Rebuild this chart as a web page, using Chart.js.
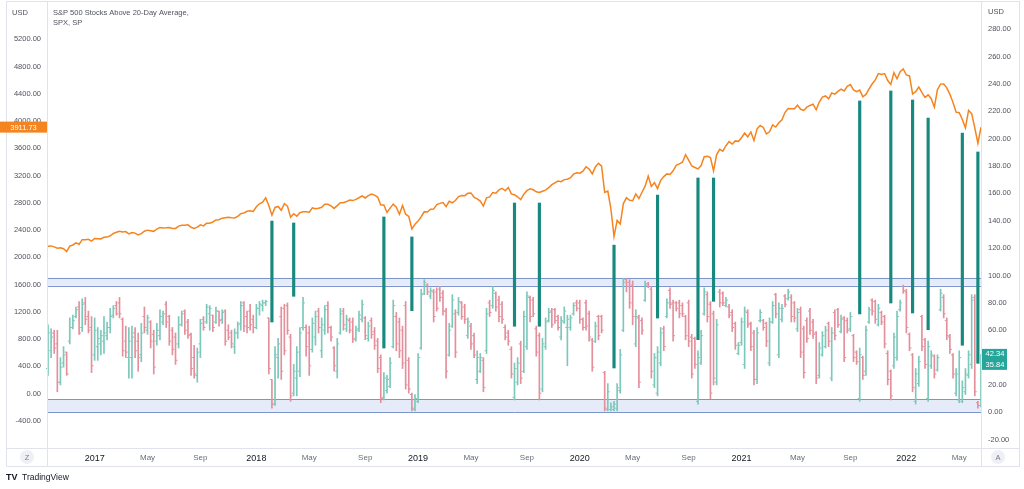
<!DOCTYPE html>
<html>
<head>
<meta charset="utf-8">
<script src="https://cdn.jsdelivr.net/npm/chart.js@4.4.1/dist/chart.umd.min.js"></script>
<style>
html, body { margin: 0; padding: 0; background: #fff; }
#wrap { position: relative; width: 1024px; height: 489px; }
</style>
</head>
<body>
<div id="wrap"><canvas id="chart" width="1024" height="489"></canvas></div>
<script>
// weekly bars, first week starts Monday 2016-09-19
var firstWeek = '2016-09-19';

// SPX weekly close (left axis)
var spxClose = [
  2164.69, 2168.27, 2153.74, 2132.98, 2141.16, 2126.41, 2085.18, 2164.45, 2181.90, 2213.35, 2191.95, 2259.53, 2258.07, 2263.79, 2238.83,
  2276.98, 2274.64, 2271.31, 2294.69, 2297.42, 2316.10, 2351.16, 2367.34, 2383.12, 2372.60, 2378.25, 2343.98, 2362.72, 2355.54, 2328.95, 2348.69,
  2384.20, 2399.29, 2390.90, 2381.73, 2415.82, 2439.07, 2431.77, 2433.15, 2438.30, 2423.41, 2425.18, 2459.27, 2472.54, 2472.10, 2476.83, 2441.32,
  2425.55, 2443.05, 2476.55, 2461.43, 2500.23, 2502.22, 2519.36, 2549.33, 2553.17, 2575.21, 2581.07, 2587.84, 2582.30, 2578.85, 2602.42, 2642.22,
  2651.50, 2675.81, 2683.34, 2673.61,
  2743.15, 2786.24, 2810.30, 2872.87, 2762.13, 2619.55, 2732.22, 2747.30, 2691.25, 2786.57, 2752.01, 2588.26, 2640.87, 2604.47, 2656.30, 2670.14,
  2669.91, 2663.42, 2727.72, 2712.97, 2721.33, 2734.62, 2779.03, 2779.66, 2754.88, 2718.37, 2759.82, 2801.31, 2801.83, 2818.82, 2840.35, 2833.28,
  2850.13, 2874.69, 2901.52, 2871.68, 2904.98, 2929.67, 2913.98, 2885.57, 2767.13, 2767.78, 2658.69, 2723.06, 2781.01, 2736.27, 2632.56, 2760.17,
  2633.08, 2599.95, 2416.62, 2485.74,
  2531.94, 2596.26, 2670.71, 2664.76, 2706.53, 2707.88, 2775.60, 2792.67, 2803.69, 2743.07, 2822.48, 2800.71, 2834.40, 2892.74, 2907.41, 2905.03,
  2939.88, 2945.64, 2881.40, 2859.53, 2826.06, 2752.06, 2873.34, 2886.98, 2950.46, 2941.76, 2990.41, 3013.77, 2976.61, 3025.86, 2932.05, 2918.65,
  2888.68, 2847.11, 2926.46, 2978.71, 3007.39, 2992.07, 2961.79, 2952.01, 2970.27, 2986.20, 3022.55, 3066.91, 3093.08, 3120.46, 3110.29, 3140.98,
  3145.91, 3168.80, 3221.22, 3240.02,
  3234.85, 3265.35, 3329.62, 3295.47, 3225.52, 3327.71, 3380.16, 3337.75, 2954.22, 2972.37, 2711.02, 2304.92, 2541.47, 2488.65, 2789.82, 2874.56,
  2836.74, 2830.71, 2929.80, 2863.70, 2955.45, 3044.31, 3193.93, 3041.31, 3097.74, 3009.05, 3130.01, 3185.04, 3224.73, 3215.63, 3271.12, 3351.28,
  3372.85, 3397.16, 3508.01, 3426.96, 3340.97, 3319.47, 3298.46, 3348.44, 3477.13, 3483.81, 3465.39, 3269.96, 3509.44, 3585.15, 3557.54, 3638.35,
  3699.12, 3663.46, 3709.41, 3703.06, 3756.07,
  3824.68, 3768.25, 3841.47, 3714.24, 3886.83, 3934.83, 3906.71, 3811.15, 3841.94, 3943.34, 3913.10, 3974.54, 4019.87, 4128.80, 4185.47, 4180.17,
  4181.17, 4232.60, 4173.85, 4155.86, 4204.11, 4229.89, 4247.44, 4166.45, 4280.70, 4352.34, 4369.55, 4327.16, 4411.79, 4395.26, 4436.52, 4468.00,
  4441.67, 4509.37, 4535.43, 4458.58, 4432.99, 4455.48, 4357.04, 4391.34, 4471.37, 4544.90, 4605.38, 4697.53, 4682.85, 4697.96, 4594.62, 4538.43,
  4712.02, 4620.64, 4725.79, 4766.18,
  4677.03, 4662.85, 4397.94, 4431.85, 4500.53, 4418.64, 4348.87, 4384.65, 4328.87, 4204.31, 4463.12, 4543.06, 4545.86, 4488.28, 4392.59, 4271.78,
  4131.93, 4123.34, 4023.89, 3901.36, 4158.24, 4108.54, 3900.86, 3674.84, 3911.73
];

// % of S&P 500 stocks above 20-day average, weekly [open, high, low, close] (right axis)
var pctOHLC = [
  [32,64,27,58],[45,61,40,55],[58,60,43,47],[50,60,15,22],[22,40,20,33],[36,48,33,42],[44,44,27,28],[52,69,50,62],[62,71,61,67],[70,77,69,75],
  [77,81,57,58],[62,83,59,79],[80,84,64,68],[70,74,58,60],[62,70,29,34],[42,69,38,60],[48,62,38,54],[50,60,42,56],[52,70,43,58],[56,66,53,62],
  [62,76,58,70],[71,78,69,76],[78,81,71,72],[80,84,69,72],[68,69,41,45],[52,63,40,44],[40,62,25,52],[40,63,25,55],[58,62,40,45],[52,58,30,40],
  [42,65,37,58],[70,77,58,62],[60,71,57,69],[66,67,47,52],[57,60,28,33],[52,65,49,60],[56,75,53,70],[66,74,64,72],[79,81,62,66],[70,71,49,52],
  [60,62,42,46],[55,58,35,38],[50,70,47,64],[64,74,63,72],[74,75,57,60],[66,68,54,56],[57,58,27,32],[40,49,25,28],[27,47,22,44],[50,68,40,65],
  [68,70,60,62],[66,79,65,77],[72,78,60,76],[71,71,59,62],[66,77,65,74],[74,74,63,67],[68,75,65,73],[74,75,49,52],[60,64,53,55],[58,60,47,50],
  [48,61,43,58],[58,66,54,64],[65,81,60,78],[80,81,59,63],[70,74,58,62],[74,79,60,64],[68,71,58,62],[62,79,61,76],[76,81,71,79],[78,82,74,80],
  [80,82,78,81],[69,69,28,32],[24,24,3,6],[6,48,5,42],[40,54,25,50],
  [70,77,24,30],[76,79,42,45],[78,80,57,60],[55,57,8,12],[14,35,12,30],[25,48,12,44],[30,62,26,58],[62,84,60,80],[62,64,41,48],[58,63,27,34],
  [46,69,44,65],[55,74,49,70],[74,76,58,62],[45,69,40,64],[60,78,57,75],[78,81,58,62],[62,63,52,55],[47,48,30,34],[30,54,25,50],[58,76,57,72],
  [74,76,60,64],[61,71,59,68],[67,69,58,60],[66,69,51,54],[53,63,52,60],[61,74,59,71],[68,82,66,79],[69,70,53,56],[54,66,52,63],[67,69,54,57],
  [59,62,46,49],[52,54,29,32],[40,42,7,10],[11,29,9,25],[16,27,14,24],[19,40,18,36],[48,82,47,78],[70,73,45,50],[66,69,40,45],[60,63,32,36],
  [78,81,17,20],[38,40,14,17],[13,14,1,3],[2,13,1,10],[8,43,7,40],[47,90,46,86],[87,97,86,95],[93,94,86,88],[85,91,83,89],[88,90,66,70],
  [88,91,74,76],[90,92,81,84],[87,89,71,74],[74,76,25,30],[42,65,41,60],[63,86,62,82],[72,75,40,44],[73,84,71,81],[80,81,68,70],[77,79,65,68],
  [56,69,54,66],[63,65,46,50],[56,58,40,42],[24,45,21,40],[30,43,29,40],[38,40,15,18],[45,76,43,72],[80,82,70,73],[78,92,76,89],[87,88,74,77],
  [82,85,66,70],[79,81,65,68],[62,64,53,55],[58,60,49,52],[46,48,25,28],[11,36,9,32],[22,40,20,36],
  [50,52,21,25],[30,74,29,70],[48,88,46,85],[84,85,66,70],[82,84,70,72],[61,63,41,44],[56,58,9,14],[17,54,15,50],[48,69,46,66],[67,76,66,73],
  [74,76,62,64],[75,76,65,67],[70,71,60,62],[55,70,53,67],[66,77,65,74],[62,71,34,68],[62,71,60,69],[72,80,71,78],[80,82,74,76],[80,82,65,68],
  [68,69,60,62],[80,82,60,63],[72,74,52,55],[53,54,30,33],[52,66,51,63],[70,71,53,56],[70,71,58,60],[29,30,1,3],[2,21,1,15],[2,7,1,4],
  [2,8,1,6],[3,21,1,18],[16,46,14,42],[60,98,59,95],[97,98,88,92],[95,97,76,80],[93,96,64,70],[50,75,48,70],[69,71,18,22],[67,69,57,60],
  [82,96,81,93],[94,95,91,92],[90,92,25,30],[20,43,18,40],[14,48,12,44],[36,62,34,58],[61,63,45,48],[70,83,69,80],[89,91,76,79],[80,82,52,56],
  [80,81,74,76],[80,82,69,72],[78,80,70,72],[70,71,53,56],[80,82,48,52],[55,57,25,28],[54,55,32,35],[8,45,6,40],[36,60,35,56],[72,91,71,88],
  [86,88,66,70],[79,81,10,14],[72,74,20,25],[22,68,20,64],[88,90,77,80],[87,88,78,80],[78,84,77,82],[77,79,69,71],[73,75,59,62],[65,66,46,49],
  [43,51,42,49],[51,69,49,66],[35,77,32,74],[73,75,62,64],[65,66,45,48],[58,60,20,24],
  [24,62,21,58],[67,75,66,73],[67,68,60,62],[65,66,48,52],[36,69,34,66],[66,81,65,78],[86,87,69,72],[42,80,40,76],[68,79,66,76],[85,86,77,79],
  [83,90,82,88],[84,86,66,70],[80,81,66,69],[61,76,59,73],[75,77,40,44],[61,63,25,29],[67,69,51,54],[74,76,57,60],[66,68,54,57],[58,59,21,25],
  [27,51,25,47],[42,59,41,56],[48,63,47,60],[65,66,48,52],[25,62,23,58],[73,75,53,56],[75,76,62,64],[59,71,58,68],[69,70,37,40],[67,69,58,60],
  [61,73,59,70],[56,57,37,40],[44,45,35,37],[10,47,8,42],[40,41,24,27],[30,63,27,60],[66,77,65,75],[82,83,71,74],[81,82,65,68],[64,79,63,76],
  [73,74,64,66],[70,71,47,50],[43,45,20,24],[30,31,9,12],[34,58,32,55],[40,74,38,70],[75,82,74,80],[92,93,87,89],[88,90,58,62],[57,58,45,47],
  [42,43,15,18],[8,32,6,28],[21,41,19,37],[70,71,45,48],[53,54,32,35],[10,52,8,48],[34,45,32,42],[41,42,25,28],[31,42,30,40],[75,90,74,87],
  [84,86,69,72],[67,69,53,56],[55,57,43,46],[42,43,25,28],[14,32,12,28],[9,45,7,40],[8,23,7,18],[15,32,13,28],[27,45,25,42],[35,86,32,82],
  [84,86,12,15],[7,8,3,5],[5,42.34,4,35.84]
];

// hand drawn vertical marks: bar index, bottom and top (right axis units)
var markWeek   = [72, 79, 108, 117, 150, 158, 182, 196, 209, 214, 261, 271, 278, 283, 294, 299];
var markBottom = [66.0, 84.8, 47.0, 74.3, 62.9, 62.9, 32.4, 68.9, 53.1, 81.1, 71.9, 79.9, 72.6, 60.4, 49.0, 35.8];
var markTop    = [139.8, 138.4, 142.8, 128.2, 153.0, 153.0, 122.2, 158.8, 171.3, 171.3, 227.6, 234.9, 228.3, 215.1, 204.1, 190.3];

// shaded zones (right axis units)
var upperZone = [92.5, 98.3];
var lowerZone = [0, 9.5];

var leftTicks = [-400, 0, 400, 800, 1200, 1600, 2000, 2400, 2800, 3200, 3600, 4000, 4400, 4800, 5200];
var rightTicks = [-20, 0, 20, 40, 60, 80, 100, 120, 140, 160, 180, 200, 220, 240, 260, 280];
var monthText = ['', '', '', '', 'May', '', '', '', 'Sep', '', '', ''];
var lastPctLabels = ['42.34', '35.84'];
var lastPctValues = [42.34, 35.84];

var titleLines = ['S&P 500 Stocks Above 20-Day Average,', 'SPX, SP'];

var ORANGE = '#f5841f';
var TEAL = '#17897e';
var UP = '#7cc8ba';
var DOWN = '#e48f9c';
var TXT = '#50535e';
var FONT = '"Liberation Sans", Arial, sans-serif';

// where the two price scales sit on screen (0 line and px per unit)
var leftZeroY = 393.6, leftPxPerUnit = 27.25 / 400;
var rightZeroY = 412.3, rightPxPerUnit = 1.3679;

// week labels
var labels = [];
var t0 = new Date(firstWeek + 'T00:00:00Z').getTime();
for (var i = 0; i < spxClose.length; i++) {
  labels.push(new Date(t0 + i * 7 * 86400000).toISOString().slice(0, 10));
}

function weekTick(i) {
  var mon = t0 + i * 7 * 86400000;
  for (var k = 0; k < 5; k++) {
    var d = new Date(mon + k * 86400000);
    var dd = d.getUTCDate();
    if (dd === 1 || (k === 0 && dd <= 3)) {
      var m = d.getUTCMonth();
      if (m === 0) return String(d.getUTCFullYear());
      return monthText[m] || null;
    }
  }
  return null;
}

function isYear(c) { return /^\d{4}$/.test(c.tick && c.tick.label); }

var wickData = pctOHLC.map(function (b) { return [b[2], b[1]]; });
var barColors = pctOHLC.map(function (b) { return b[3] >= b[0] ? UP : DOWN; });
var openData = pctOHLC.map(function (b) { return b[0]; });
var closeData = pctOHLC.map(function (b) { return b[3]; });
var markData = labels.map(function () { return null; });
markWeek.forEach(function (w, j) { markData[w] = [markBottom[j], markTop[j]]; });

function noPad(s) { s.paddingTop = 0; s.paddingBottom = 0; s.paddingLeft = 0; s.paddingRight = 0; }

var decor = {
  id: 'decor',
  beforeDatasetsDraw: function (chart) {
    var ctx = chart.ctx, a = chart.chartArea, yR = chart.scales.yR;
    ctx.save();
    [upperZone, lowerZone].forEach(function (z) {
      var y1 = yR.getPixelForValue(z[1]), y0 = yR.getPixelForValue(z[0]);
      ctx.fillStyle = 'rgba(200, 210, 245, 0.45)';
      ctx.fillRect(a.left, y1, a.right - a.left, y0 - y1);
      ctx.strokeStyle = '#7d94cc';
      ctx.lineWidth = 1;
      ctx.beginPath();
      ctx.moveTo(a.left, Math.round(y1) + 0.5); ctx.lineTo(a.right, Math.round(y1) + 0.5);
      ctx.moveTo(a.left, Math.round(y0) + 0.5); ctx.lineTo(a.right, Math.round(y0) + 0.5);
      ctx.stroke();
    });
    ctx.restore();
  },
  afterDraw: function (chart) {
    var ctx = chart.ctx, a = chart.chartArea;
    var yL = chart.scales.yL, yR = chart.scales.yR;
    ctx.save();
    // frame and separators
    ctx.strokeStyle = '#e0e3eb';
    ctx.lineWidth = 1;
    ctx.beginPath();
    ctx.moveTo(6.5, 1.5); ctx.lineTo(1019.5, 1.5);
    ctx.moveTo(6.5, 466.5); ctx.lineTo(1019.5, 466.5);
    ctx.moveTo(6.5, 1.5); ctx.lineTo(6.5, 466.5);
    ctx.moveTo(1019.5, 1.5); ctx.lineTo(1019.5, 466.5);
    ctx.moveTo(a.left - 0.5, 1.5); ctx.lineTo(a.left - 0.5, 466.5);
    ctx.moveTo(a.right + 0.5, 1.5); ctx.lineTo(a.right + 0.5, 466.5);
    ctx.moveTo(6.5, a.bottom + 0.5); ctx.lineTo(1019.5, a.bottom + 0.5);
    ctx.stroke();

    // headers
    ctx.fillStyle = TXT;
    ctx.font = '7.5px ' + FONT;
    ctx.textBaseline = 'middle';
    ctx.textAlign = 'left';
    ctx.fillText('USD', 12, 12.5);
    ctx.fillText('USD', 988, 11.5);
    ctx.fillText(titleLines[0], 53, 12.7);
    ctx.fillText(titleLines[1], 53, 23.3);

    // last SPX value
    var ys = yL.getPixelForValue(spxClose[spxClose.length - 1]);
    ctx.fillStyle = ORANGE;
    ctx.fillRect(0, ys - 5.5, a.left - 1, 11);
    ctx.fillStyle = '#fff';
    ctx.textAlign = 'center';
    ctx.fillText(spxClose[spxClose.length - 1].toFixed(2), (a.left - 1) / 2, ys + 0.5);

    // last % values
    var yp0 = yR.getPixelForValue(lastPctValues[0]);
    ctx.fillStyle = '#26a69a';
    ctx.fillRect(a.right + 1, yp0 - 5.5, 25, 21);
    ctx.fillStyle = '#fff';
    ctx.fillText(lastPctLabels[0], a.right + 14, yp0);
    ctx.fillText(lastPctLabels[1], a.right + 14, yp0 + 10.5);

    // corner buttons
    [[27, 'Z'], [998, 'A']].forEach(function (b) {
      ctx.fillStyle = '#eef0f5';
      ctx.beginPath();
      ctx.arc(b[0], 457, 7, 0, Math.PI * 2);
      ctx.fill();
      ctx.fillStyle = '#787b86';
      ctx.fillText(b[1], b[0], 457.5);
    });

    // brand
    ctx.textAlign = 'left';
    ctx.fillStyle = '#131722';
    ctx.font = 'bold 9px ' + FONT;
    ctx.fillText('TV', 6, 477.5);
    ctx.font = '8.5px ' + FONT;
    ctx.fillText('TradingView', 22, 477.5);
    ctx.restore();
  }
};

var chart = new Chart(document.getElementById('chart'), {
  type: 'bar',
  data: {
    labels: labels,
    datasets: [
      {
        type: 'line',
        label: 'SPX',
        data: spxClose,
        yAxisID: 'yL',
        borderColor: ORANGE,
        borderWidth: 1.5,
        pointRadius: 0,
        tension: 0,
        order: 0
      },
      {
        label: 'marks',
        data: markData,
        yAxisID: 'yR',
        backgroundColor: TEAL,
        barThickness: 2.5,
        grouped: false,
        order: 1
      },
      {
        type: 'line',
        label: 'open',
        data: openData,
        yAxisID: 'yR',
        showLine: false,
        pointStyle: 'dash',
        pointRotation: 180,
        pointRadius: 2,
        pointBorderWidth: 1,
        pointBorderColor: barColors,
        pointBackgroundColor: barColors,
        order: 2
      },
      {
        type: 'line',
        label: 'close',
        data: closeData,
        yAxisID: 'yR',
        showLine: false,
        pointStyle: 'dash',
        pointRotation: 0,
        pointRadius: 2,
        pointBorderWidth: 1,
        pointBorderColor: barColors,
        pointBackgroundColor: barColors,
        order: 2
      },
      {
        label: 'range',
        data: wickData,
        yAxisID: 'yR',
        backgroundColor: barColors,
        barThickness: 1,
        grouped: false,
        order: 3
      }
    ]
  },
  options: {
    responsive: false,
    animation: false,
    devicePixelRatio: 1,
    layout: { padding: { top: 2, bottom: 23, left: 0, right: 0 } },
    plugins: { legend: { display: false }, tooltip: { enabled: false } },
    scales: {
      x: {
        offset: false,
        grid: { display: false, drawTicks: false, tickLength: 0 },
        border: { display: false },
        afterFit: function (s) { s.height = 18; noPad(s); },
        ticks: {
          autoSkip: false,
          maxRotation: 0,
          padding: 5,
          font: function (c) { return { family: FONT, size: isYear(c) ? 9 : 8 }; },
          color: function (c) { return isYear(c) ? '#131722' : '#6a6d78'; },
          callback: function (v, i) { return weekTick(i); }
        }
      },
      yL: {
        position: 'left',
        min: -800,
        max: 5750,
        grid: { display: false, drawTicks: false, tickLength: 0 },
        border: { display: false },
        afterFit: function (s) { s.width = 48; noPad(s); },
        afterBuildTicks: function (s) { s.ticks = leftTicks.map(function (v) { return { value: v }; }); },
        ticks: {
          padding: 7,
          font: { family: FONT, size: 7.5 },
          color: TXT,
          callback: function (v) { return Number(v).toFixed(2); }
        }
      },
      yR: {
        position: 'right',
        min: -26,
        max: 300,
        grid: { display: false, drawTicks: false, tickLength: 0 },
        border: { display: false },
        afterFit: function (s) { s.width = 43; noPad(s); },
        afterBuildTicks: function (s) { s.ticks = rightTicks.map(function (v) { return { value: v }; }); },
        ticks: {
          padding: 7,
          font: { family: FONT, size: 7.5 },
          color: TXT,
          callback: function (v) { return Number(v).toFixed(2); }
        }
      }
    }
  },
  plugins: [decor]
});

// pin both value scales to the reference pixel positions once the plot box is known
var area = chart.chartArea;
chart.options.scales.yL.min = (leftZeroY - area.bottom) / leftPxPerUnit;
chart.options.scales.yL.max = (leftZeroY - area.top) / leftPxPerUnit;
chart.options.scales.yR.min = (rightZeroY - area.bottom) / rightPxPerUnit;
chart.options.scales.yR.max = (rightZeroY - area.top) / rightPxPerUnit;
chart.update();
</script>
</body>
</html>
